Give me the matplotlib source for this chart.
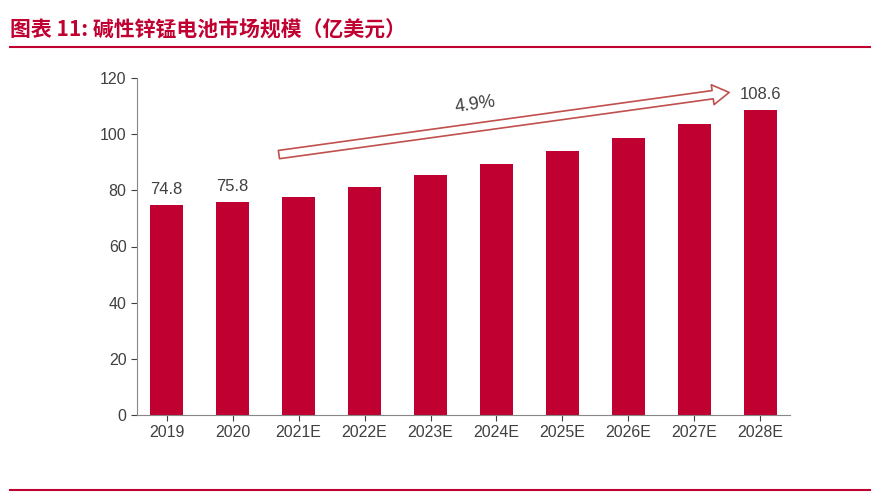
import matplotlib.pyplot as plt
from matplotlib import font_manager as fm
from matplotlib.patches import FancyArrowPatch

plt.rcParams['font.family'] = ['Liberation Sans']

cjk_files = [f for f in fm.findSystemFonts() if 'CJK' in f and ('Bold' in f or 'Regular' in f)]
cjk_files.sort(key=lambda f: ('Bold' not in f, 'SC' not in f))
cjk = fm.FontProperties(fname=cjk_files[0], size=15) if cjk_files else fm.FontProperties(family='Noto Sans CJK SC', size=15)

years = ['2019', '2020', '2021E', '2022E', '2023E', '2024E', '2025E', '2026E', '2027E', '2028E']
values = [74.8, 75.8, 77.5, 81.3, 85.3, 89.5, 94.0, 98.6, 103.5, 108.6]
labeled = {0: '74.8', 1: '75.8', 9: '108.6'}
cagr = '4.9%'

red = '#C00030'
fig = plt.figure(figsize=(8.78, 4.97), dpi=100)
ax = fig.add_axes([137/878, 1-415/497, 653/878, 337/497])

x = range(len(years))
ax.bar(x, values, width=0.5, color=red)
for i, t in labeled.items():
    ax.text(i, values[i] + 3, t, ha='center', va='bottom', fontsize=12, color='#404040')

ax.set_ylim(0, 120)
ax.set_xlim(-0.45, len(years) - 0.55)
ax.set_yticks(range(0, 121, 20))
ax.set_xticks(list(x))
ax.set_xticklabels(years)
ax.tick_params(labelsize=11.5, colors='#404040', length=4)
for s in ['top', 'right']:
    ax.spines[s].set_visible(False)
ax.spines['left'].set_color('#888888')
ax.spines['bottom'].set_color('#888888')

arr = FancyArrowPatch((1.66, 92.6), (8.57, 115.0), arrowstyle='simple,head_width=1.2,head_length=1.0,tail_width=0.5',
                      mutation_scale=12, facecolor='white', edgecolor='#C0504D', lw=1.2)
ax.add_patch(arr)
ax.text(4.68, 110.5, cagr, ha='center', va='center', fontsize=13, color='#404040', rotation=8)

fig.text(10/878, 1-30/497, '图表 11: 碱性锌锰电池市场规模（亿美元）', color=red,
         style='italic', va='center', fontproperties=cjk)
fig.add_artist(plt.Line2D([10/878, 870/878], [1-47/497, 1-47/497], color=red, lw=1.5))
fig.add_artist(plt.Line2D([10/878, 870/878], [1-490/497, 1-490/497], color=red, lw=1.5))

fig.savefig('out.png', dpi=100)
